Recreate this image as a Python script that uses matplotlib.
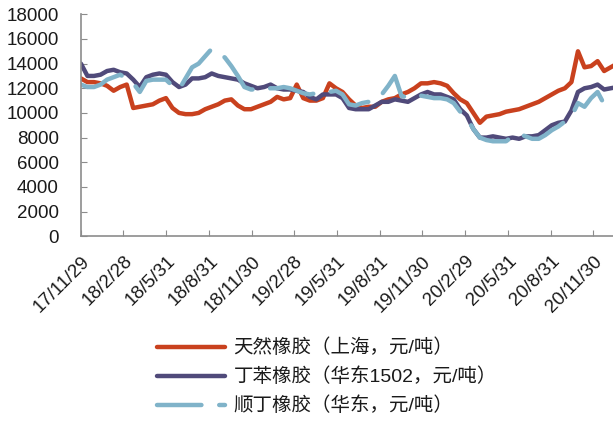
import pandas as pd
import matplotlib
matplotlib.use("Agg")
import matplotlib.pyplot as plt

# biweekly samples starting 2017-11-29
start = "2017-11-29"
natural_rubber = [12800, 12500, 12500, 12400, 12200, 11800, 12100, 12300, 10400, 10500,
                  10600, 10700, 11000, 11200, 10400, 10000, 9900, 9900, 10000, 10300,
                  10500, 10700, 11000, 11100, 10600, 10300, 10300, 10500, 10700, 10900,
                  11300, 11100, 11200, 12300, 11200, 11000, 11000, 11200, 12400, 12000,
                  11700, 11100, 10600, 10400, 10500, 10500, 10900, 11100, 11200, 11500,
                  11700, 12000, 12400, 12400, 12500, 12400, 12200, 11600, 11100, 10800,
                  10000, 9200, 9700, 9800, 9900, 10100, 10200, 10300, 10500, 10700,
                  10900, 11200, 11500, 11800, 12000, 12500, 15000, 13700, 13800, 14200,
                  13400, 13700, 14000]
sbr_rubber = [14000, 13000, 13000, 13100, 13400, 13500, 13300, 13200, 12700, 12100,
              12900, 13100, 13200, 13100, 12500, 12100, 12300, 12800, 12800, 12900,
              13200, 13000, 12900, 12800, 12700, 12400, 12200, 12000, 12100, 12300,
              12000, 11900, 11900, 11800, 11700, 11300, 11100, 11500, 11500, 11500,
              11200, 10400, 10300, 10300, 10300, 10600, 10900, 10900, 11100, 11000,
              10900, 11200, 11500, 11700, 11500, 11500, 11300, 11100, 10300, 9800,
              8700, 8000, 8000, 8100, 8000, 7900, 8000, 7900, 8100, 8100,
              8200, 8600, 9000, 9200, 9300, 10200, 11700, 12000, 12100, 12300,
              11900, 12000, 12100]
br_rubber = [12300, 12100, 12100, 12300, 12700, 12900, 13100, 12800, 12400, 11700,
             12600, 12700, 12700, 12700, 12200, 11900, 12800, 13700, 14000, 14600,
             15200, 14800, 14500, 13800, 13000, 12100, 11900, 11900, 11900, 12000,
             12000, 12100, 12000, 11800, 11600, 11500, 11600, 11700, 11700, 11800,
             11500, 10700, 10600, 10800, 10900, 11000, 11500, 12200, 13000, 11400,
             11200, 11300, 11400, 11300, 11200, 11200, 11100, 10800, 10100, 9600,
             8700, 8000, 7800, 7700, 7700, 7700, 8100, 8300, 8100, 7900,
             7900, 8200, 8600, 8900, 9300, 9700, 10800, 10500, 11200, 11700,
             10700, 10600, 10600]
labels = ["天然橡胶（上海，元/吨）", "丁苯橡胶（华东1502，元/吨）", "顺丁橡胶（华东，元/吨）"]
tick_dates = ["2017-11-29", "2018-02-28", "2018-05-31", "2018-08-31", "2018-11-30",
              "2019-02-28", "2019-05-31", "2019-08-31", "2019-11-30", "2020-02-29",
              "2020-05-31", "2020-08-31", "2020-11-30"]
tick_labels = ["17/11/29", "18/2/28", "18/5/31", "18/8/31", "18/11/30", "19/2/28",
               "19/5/31", "19/8/31", "19/11/30", "20/2/29", "20/5/31", "20/8/31", "20/11/30"]

dates = pd.date_range(start, periods=len(natural_rubber), freq="14D")

plt.rcParams["font.family"] = ["Liberation Sans", "Noto Sans CJK SC", "DejaVu Sans"]
plt.rcParams["font.size"] = 13.5

fig = plt.figure(figsize=(6.13, 4.21), dpi=100)
ax = fig.add_axes([0.132, 0.439, 0.868, 0.527])

ax.plot(dates, natural_rubber, color="#C9411E", lw=3.2, label=labels[0],
        solid_capstyle="round")
ax.plot(dates, sbr_rubber, color="#504A7A", lw=3.2, label=labels[1],
        solid_capstyle="round")
ax.plot(dates, br_rubber, color="#80B3C9", lw=3.2, label=labels[2],
        dashes=(10, 4), dash_capstyle="round")

ax.set_ylim(0, 18000)
ax.set_yticks(range(0, 18001, 2000))
ax.set_xlim(pd.Timestamp("2017-11-29"), pd.Timestamp("2021-01-11"))
ax.set_xticks(pd.to_datetime(tick_dates))
ax.set_xticklabels(tick_labels, rotation=45, ha="right", rotation_mode="anchor")

for side in ["top", "right"]:
    ax.spines[side].set_visible(False)
for side in ["left", "bottom"]:
    ax.spines[side].set_color("#8C8C8C")
    ax.spines[side].set_linewidth(1.2)
ax.tick_params(axis="x", direction="in", length=4, color="#8C8C8C", pad=12,
               labelsize=13.5, labelcolor="#1A1A1A")
ax.tick_params(axis="y", direction="in", length=4, color="#8C8C8C", pad=16,
               labelsize=13.5, labelcolor="#1A1A1A")

leg = fig.legend(loc="upper left", bbox_to_anchor=(0.227, 0.237), frameon=False,
                 handlelength=3.5, handletextpad=0.45, labelspacing=0.53,
                 prop={"family": ["Liberation Sans", "Noto Sans CJK SC", "DejaVu Sans"],
                       "size": 14})
for t in leg.get_texts():
    t.set_color("#1A1A1A")

fig.savefig("out.png", dpi=100)
